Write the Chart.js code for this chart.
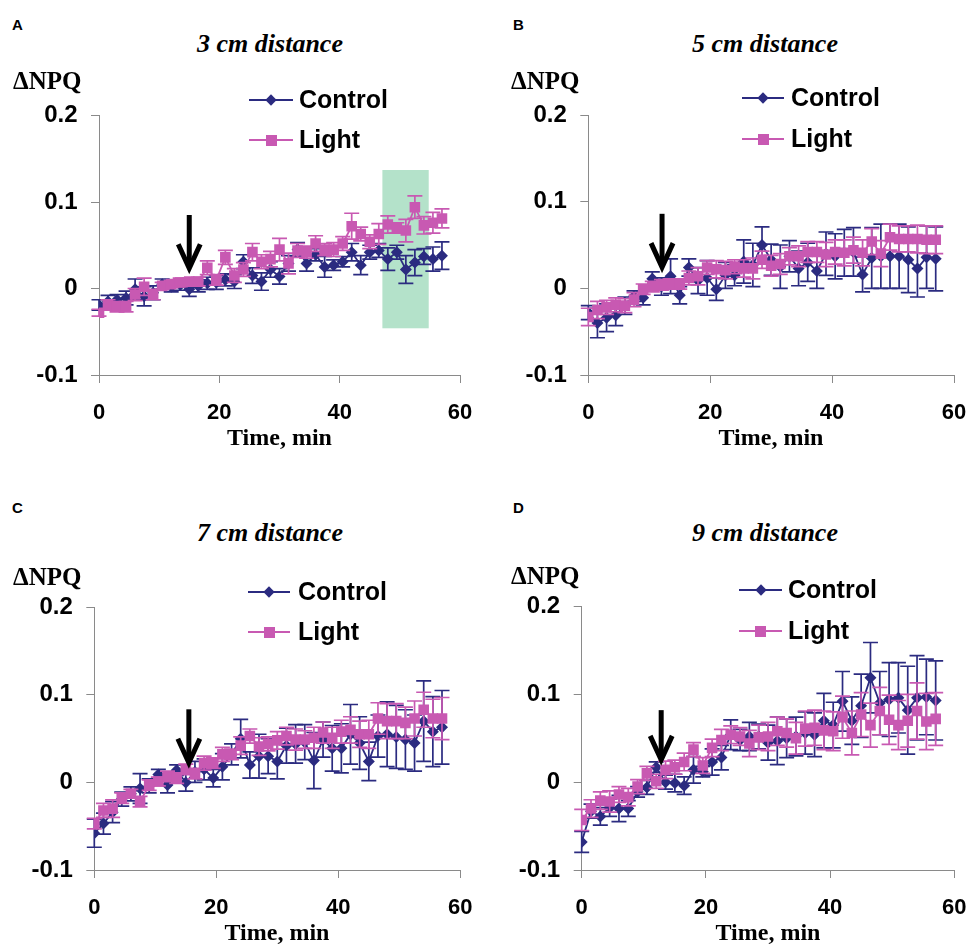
<!DOCTYPE html>
<html><head><meta charset="utf-8">
<script src="https://cdn.jsdelivr.net/npm/chart.js@4.4.1/dist/chart.umd.min.js"></script>
<style>
html,body{margin:0;padding:0;background:#fff;}
#wrap{position:relative;width:969px;height:946px;overflow:hidden;background:#fff;}
canvas{position:absolute;}
.t{position:absolute;white-space:nowrap;color:#000;line-height:1;}
.letter{font:bold 15px "Liberation Sans",Arial,sans-serif;}
.title{font:italic bold 26px "Liberation Serif","Times New Roman",serif;transform:translate(-50%,-50%);}
.ylab{font:bold 25px "Liberation Serif","Times New Roman",serif;transform:translateY(-50%);}
.xlab{font:bold 24px "Liberation Serif","Times New Roman",serif;transform:translate(-50%,-50%);}
.leg{font:bold 25px "Liberation Sans",Arial,sans-serif;transform:translateY(-50%);}
.lline{position:absolute;height:2px;}
.mk{position:absolute;}
</style>
</head><body><div id="wrap"></div>
<script>
// ---- data (time in min, ΔNPQ values, standard errors) ----
const times = [0,1.5,3,4.5,6,7.5,9,10.5,12,13.5,15,16.5,18,19.5,21,22.5,24,25.5,27,28.5,30,31.5,33,34.5,36,37.5,39,40.5,42,43.5,45,46.5,48,49.5,51,52.5,54,55.5,57];
const seriesNames = ['Control','Light'];
const panelTitles = ['3 cm distance','5 cm distance','7 cm distance','9 cm distance'];
const panelLetters = ['A','B','C','D'];
const xTicks = [0,20,40,60];
const yTicks = [-0.1,0,0.1,0.2];

const controlA = [-0.019,-0.015,-0.013,-0.011,-0.001,-0.009,-0.005,0.005,0.002,0.004,-0.001,0.003,0.006,0.007,0.010,0.008,0.031,0.015,0.008,0.022,0.014,0.029,0.045,0.029,0.039,0.025,0.027,0.031,0.042,0.027,0.042,0.044,0.034,0.042,0.022,0.030,0.037,0.034,0.038];
const lightA = [-0.028,-0.019,-0.021,-0.021,-0.007,0.002,-0.007,0.003,0.005,0.007,0.008,0.008,0.024,0.010,0.036,0.015,0.022,0.042,0.031,0.034,0.045,0.029,0.044,0.042,0.052,0.045,0.045,0.052,0.072,0.063,0.054,0.063,0.074,0.070,0.067,0.094,0.073,0.076,0.081];
const errControlA = [0.006,0.007,0.006,0.008,0.012,0.011,0.008,0.006,0.006,0.006,0.008,0.007,0.007,0.008,0.007,0.008,0.008,0.009,0.01,0.009,0.009,0.009,0.008,0.009,0.007,0.012,0.006,0.006,0.01,0.011,0.008,0.008,0.013,0.008,0.016,0.015,0.009,0.014,0.016];
const errLightA = [0.004,0.006,0.006,0.006,0.007,0.01,0.006,0.004,0.004,0.005,0.004,0.005,0.008,0.006,0.008,0.008,0.008,0.01,0.008,0.009,0.013,0.012,0.008,0.007,0.009,0.007,0.008,0.008,0.015,0.008,0.008,0.012,0.01,0.006,0.013,0.013,0.01,0.012,0.011];

const controlB = [-0.028,-0.040,-0.034,-0.031,-0.020,-0.009,-0.011,0.011,0.002,0.014,-0.008,0.024,0.009,0.012,-0.001,0.015,0.015,0.031,0.027,0.050,0.033,0.025,0.037,0.023,0.030,0.020,0.040,0.037,0.041,0.042,0.016,0.035,0.037,0.037,0.037,0.033,0.023,0.036,0.034];
const lightB = [-0.033,-0.025,-0.022,-0.019,-0.020,-0.013,-0.001,0.002,0.004,0.005,0.005,0.012,0.014,0.024,0.022,0.021,0.025,0.023,0.023,0.033,0.026,0.028,0.037,0.037,0.042,0.042,0.039,0.042,0.041,0.044,0.041,0.054,0.040,0.059,0.057,0.057,0.057,0.056,0.056];
const errControlB = [0.008,0.017,0.016,0.012,0.01,0.006,0.008,0.008,0.01,0.02,0.01,0.01,0.015,0.02,0.013,0.015,0.012,0.025,0.025,0.021,0.018,0.025,0.018,0.02,0.022,0.02,0.025,0.026,0.027,0.028,0.02,0.035,0.037,0.037,0.037,0.038,0.033,0.036,0.037];
const errLightB = [0.01,0.01,0.008,0.008,0.008,0.008,0.006,0.006,0.006,0.006,0.006,0.008,0.01,0.008,0.01,0.01,0.008,0.01,0.012,0.01,0.012,0.012,0.01,0.012,0.012,0.012,0.014,0.014,0.015,0.015,0.015,0.015,0.015,0.015,0.015,0.015,0.016,0.016,0.016];

const controlC = [-0.058,-0.047,-0.034,-0.019,-0.013,-0.007,-0.004,0.009,-0.003,0.014,0.000,0.012,0.015,0.005,0.018,0.032,0.050,0.020,0.030,0.030,0.024,0.042,0.044,0.046,0.025,0.049,0.039,0.039,0.055,0.045,0.024,0.053,0.055,0.052,0.049,0.045,0.070,0.058,0.063];
const lightC = [-0.047,-0.032,-0.030,-0.018,-0.013,-0.022,-0.003,0.001,0.007,0.005,0.015,0.010,0.022,0.022,0.032,0.032,0.042,0.053,0.041,0.044,0.048,0.053,0.049,0.049,0.051,0.057,0.051,0.058,0.060,0.055,0.055,0.073,0.070,0.070,0.068,0.073,0.083,0.073,0.073];
const errControlC = [0.016,0.012,0.012,0.008,0.008,0.017,0.008,0.006,0.009,0.006,0.01,0.012,0.012,0.01,0.015,0.012,0.022,0.015,0.025,0.02,0.02,0.02,0.022,0.02,0.032,0.02,0.026,0.028,0.034,0.03,0.022,0.024,0.037,0.036,0.034,0.032,0.046,0.04,0.042];
const errLightC = [0.006,0.008,0.01,0.006,0.005,0.006,0.006,0.005,0.006,0.006,0.006,0.006,0.008,0.006,0.008,0.006,0.01,0.008,0.01,0.008,0.01,0.01,0.012,0.01,0.012,0.012,0.012,0.013,0.015,0.015,0.016,0.018,0.02,0.02,0.018,0.02,0.02,0.022,0.024];

const controlD = [-0.068,-0.033,-0.039,-0.029,-0.030,-0.030,-0.011,-0.006,0.017,0.000,-0.001,-0.004,0.014,0.012,0.023,0.028,0.054,0.048,0.052,0.052,0.045,0.047,0.050,0.052,0.056,0.054,0.070,0.065,0.092,0.070,0.087,0.119,0.090,0.094,0.096,0.082,0.096,0.097,0.093];
const lightD = [-0.043,-0.030,-0.021,-0.022,-0.014,-0.017,-0.005,0.010,0.001,0.014,0.017,0.023,0.037,0.019,0.039,0.048,0.054,0.052,0.044,0.051,0.052,0.058,0.056,0.050,0.061,0.062,0.059,0.058,0.074,0.056,0.077,0.065,0.081,0.071,0.065,0.070,0.081,0.069,0.072];
const errControlD = [0.012,0.008,0.01,0.01,0.015,0.009,0.006,0.008,0.006,0.008,0.01,0.01,0.015,0.006,0.015,0.014,0.017,0.012,0.016,0.014,0.02,0.027,0.022,0.022,0.024,0.025,0.031,0.026,0.034,0.027,0.036,0.04,0.036,0.042,0.04,0.05,0.048,0.043,0.045];
const errLightD = [0.012,0.01,0.01,0.012,0.009,0.01,0.008,0.008,0.008,0.01,0.008,0.01,0.008,0.009,0.01,0.012,0.01,0.01,0.015,0.014,0.016,0.016,0.016,0.018,0.02,0.02,0.022,0.022,0.024,0.025,0.025,0.025,0.027,0.028,0.028,0.03,0.032,0.032,0.03];

// annotations (data units): arrow = light-on time marker, highlighted window in A
const arrowTimes = [15, 12.1, 15.5, 12.8];
const arrowTops = [0.085, 0.086, 0.0835, 0.082];
const arrowTips = [0.020, 0.021, 0.019, 0.022];
const highlightA = {x0:47.1, x1:54.8, y0:-0.046, y1:0.137};

// ---- styles / layout ----
const C_CTRL = '#2b2b80';
const C_LIGHT = '#c859b2';
const AXIS = '#8a8a8a';
const layout = [
  {canvas:[0,60,484,400],   area:[99,115.5,460,375],   letter:[12,16], title:[270,44], ylab:[13,81],  xlab:[279.5,437], leg:[249,293,299,100,140]},
  {canvas:[484,60,485,400], area:[588.3,115,954,375],  letter:[513,16], title:[765,44], ylab:[511,81], xlab:[771,437],  leg:[742,784,791,98,139]},
  {canvas:[0,550,484,396],  area:[94.3,607.3,460.3,870], letter:[12,499], title:[270,533], ylab:[13,577], xlab:[277,932], leg:[248,290,298,592,632]},
  {canvas:[484,550,485,396],area:[581.7,606.5,954.3,870], letter:[513,499], title:[765,533], ylab:[511,576], xlab:[768,932], leg:[739,782,788,590,631]}
];
const controls = [controlA, controlB, controlC, controlD];
const lights = [lightA, lightB, lightC, lightD];
const errC = [errControlA, errControlB, errControlC, errControlD];
const errL = [errLightA, errLightB, errLightC, errLightD];

const wrap = document.getElementById('wrap');
function addText(txt, cls, x, y){
  const d = document.createElement('div');
  d.className = 't ' + cls; d.textContent = txt;
  d.style.left = x + 'px'; d.style.top = y + 'px';
  wrap.appendChild(d); return d;
}

const errPlugin = {
  id: 'errbars',
  beforeDatasetDraw(chart, args){
    const ds = chart.data.datasets[args.index];
    if (!ds.err) return;
    const ctx = chart.ctx, xs = chart.scales.x, ys = chart.scales.y;
    ctx.save();
    ctx.strokeStyle = ds.borderColor; ctx.lineWidth = 1.7;
    ds.data.forEach((p, i) => {
      const x = xs.getPixelForValue(p.x);
      const y1 = ys.getPixelForValue(p.y + ds.err[i]);
      const y2 = ys.getPixelForValue(p.y - ds.err[i]);
      ctx.beginPath();
      ctx.moveTo(x, y1); ctx.lineTo(x, y2);
      ctx.moveTo(x - 7.5, y1); ctx.lineTo(x + 7.5, y1);
      ctx.moveTo(x - 7.5, y2); ctx.lineTo(x + 7.5, y2);
      ctx.stroke();
    });
    ctx.restore();
  }
};
const boxPlugin = {
  id: 'hbox',
  beforeDatasetsDraw(chart, args, opts){
    if (!opts || !opts.box) return;
    const b = opts.box, xs = chart.scales.x, ys = chart.scales.y, ctx = chart.ctx;
    const x0 = xs.getPixelForValue(b.x0), x1 = xs.getPixelForValue(b.x1);
    const y0 = ys.getPixelForValue(b.y0), y1 = ys.getPixelForValue(b.y1);
    ctx.save(); ctx.fillStyle = '#b4e2ca';
    ctx.fillRect(x0, y1, x1 - x0, y0 - y1);
    ctx.restore();
  }
};
const arrowPlugin = {
  id: 'harrow',
  afterDatasetsDraw(chart, args, opts){
    if (!opts || opts.x === undefined) return;
    const xs = chart.scales.x, ys = chart.scales.y, ctx = chart.ctx;
    const x = xs.getPixelForValue(opts.x);
    const yt = ys.getPixelForValue(opts.top), yp = ys.getPixelForValue(opts.tip);
    ctx.save();
    ctx.strokeStyle = '#000'; ctx.lineWidth = 5; ctx.lineJoin = 'miter'; ctx.lineCap = 'butt';
    ctx.beginPath(); ctx.moveTo(x, yt); ctx.lineTo(x, yp - 4); ctx.stroke();
    ctx.beginPath(); ctx.moveTo(x - 11, yp - 27); ctx.lineTo(x, yp - 3); ctx.lineTo(x + 11, yp - 27); ctx.stroke();
    ctx.restore();
  }
};

const tickFont = {family:'"Liberation Sans", Arial, sans-serif', weight:'bold', size:24};
const xTickFont = {family:'"Liberation Sans", Arial, sans-serif', weight:'bold', size:22, lineHeight: 56/22};

layout.forEach((L, k) => {
  const [cx, cy, cw, ch] = L.canvas;
  const [al, at, ar, ab] = L.area;
  const cv = document.createElement('canvas');
  cv.width = cw; cv.height = ch;
  cv.style.left = cx + 'px'; cv.style.top = cy + 'px';
  cv.style.width = cw + 'px'; cv.style.height = ch + 'px';
  wrap.appendChild(cv);
  const ctrlData = times.map((t, i) => ({x: t, y: controls[k][i]}));
  const lightData = times.map((t, i) => ({x: t, y: lights[k][i]}));
  new Chart(cv.getContext('2d'), {
    type: 'scatter',
    data: {datasets: [
      {label: seriesNames[0], data: ctrlData, err: errC[k], showLine: true, borderColor: C_CTRL, backgroundColor: C_CTRL,
       borderWidth: 1.8, pointStyle: 'rectRot', pointRadius: 6, pointBorderWidth: 0, pointBackgroundColor: C_CTRL, order: 1},
      {label: seriesNames[1], data: lightData, err: errL[k], showLine: true, borderColor: C_LIGHT, backgroundColor: C_LIGHT,
       borderWidth: 1.8, pointStyle: 'rect', pointRadius: 7.5, pointBorderWidth: 0, pointBackgroundColor: C_LIGHT, order: 0}
    ]},
    options: {
      responsive: false, animation: false, devicePixelRatio: 1,
      layout: {autoPadding: false, padding: {left: 0, top: at - cy, right: cx + cw - ar, bottom: 0}},
      plugins: {
        legend: {display: false}, tooltip: {enabled: false}, title: {display: false},
        hbox: {box: k === 0 ? highlightA : null},
        harrow: {x: arrowTimes[k], top: arrowTops[k], tip: arrowTips[k]}
      },
      scales: {
        x: {type: 'linear', min: 0, max: 60,
            afterFit: s => { s.height = cy + ch - ab; },
            afterBuildTicks: s => { s.ticks = xTicks.map(v => ({value: v})); },
            ticks: {font: xTickFont, color: '#000', padding: 2, maxRotation: 0, callback: v => String(v)},
            grid: {drawOnChartArea: false, drawTicks: true, tickLength: 8, color: AXIS, lineWidth: 1},
            border: {display: true, color: AXIS, width: 1}},
        y: {type: 'linear', min: -0.1, max: 0.2,
            afterFit: s => { s.width = al - cx; },
            afterBuildTicks: s => { s.ticks = yTicks.map(v => ({value: v})); },
            ticks: {font: tickFont, color: '#000', padding: 13.5, callback: v => { const r = Math.round(v * 10) / 10; return r === 0 ? '0' : String(r); }},
            grid: {drawOnChartArea: false, drawTicks: true, tickLength: 8, color: AXIS, lineWidth: 1},
            border: {display: true, color: AXIS, width: 1}}
      }
    },
    plugins: [errPlugin, boxPlugin, arrowPlugin]
  });

  // texts
  addText(panelLetters[k], 'letter', L.letter[0], L.letter[1]);
  addText(panelTitles[k], 'title', L.title[0], L.title[1]);
  addText('\u0394NPQ', 'ylab', L.ylab[0], L.ylab[1]);
  addText('Time, min', 'xlab', L.xlab[0], L.xlab[1]);
  // legend
  const [lx1, lx2, tx, yc, yl] = L.leg;
  [[yc, C_CTRL, 'rectRot', seriesNames[0]], [yl, C_LIGHT, 'rect', seriesNames[1]]].forEach(([yy, col, st, name]) => {
    const ln = document.createElement('div');
    ln.className = 'lline'; ln.style.left = lx1 + 'px'; ln.style.width = (lx2 - lx1) + 'px';
    ln.style.top = (yy - 1) + 'px'; ln.style.background = col; wrap.appendChild(ln);
    const mk = document.createElement('div');
    mk.className = 'mk'; mk.style.background = col;
    const mid = (lx1 + lx2) / 2;
    if (st === 'rect') { mk.style.width = '11px'; mk.style.height = '11px'; mk.style.left = (mid - 5.5) + 'px'; mk.style.top = (yy - 5.5) + 'px'; }
    else { mk.style.width = '8px'; mk.style.height = '8px'; mk.style.left = (mid - 4) + 'px'; mk.style.top = (yy - 4) + 'px'; mk.style.transform = 'rotate(45deg)'; }
    wrap.appendChild(mk);
    addText(name, 'leg', tx, yy - 1);
  });
});
</script>
</body></html>
